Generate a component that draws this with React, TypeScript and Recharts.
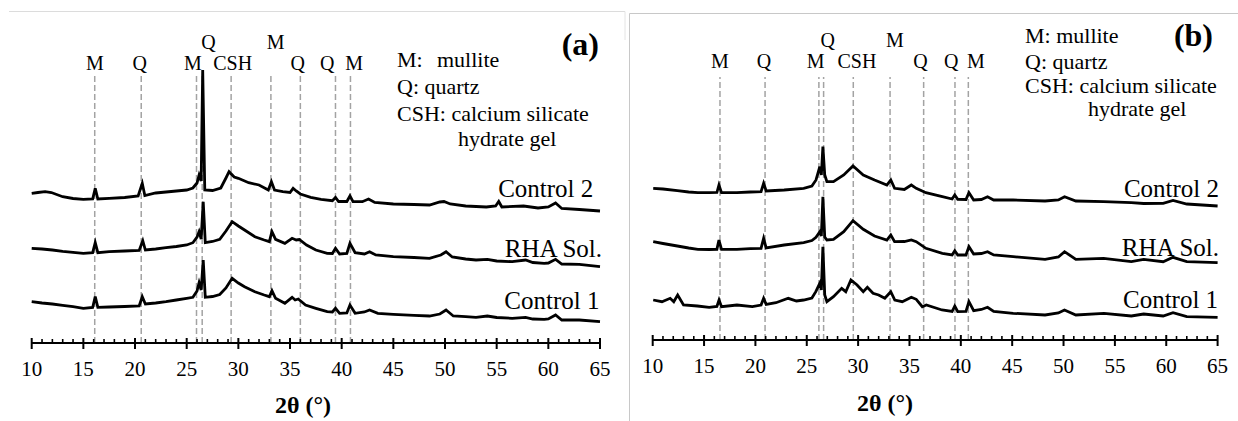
import React from "react";
import { LineChart, Line, XAxis, YAxis, ReferenceLine, ReferenceDot } from "recharts";

const FONT = "Liberation Serif";

type Pt = [number, number];

// phase markers: 2θ of each dashed line, and where its tag sits
const tagNames = ["M", "Q", "M", "Q", "CSH", "M", "Q", "Q", "M"];
const tagRows = [0, 0, 0, 1, 0, 1, 0, 0, 0];
const linesA = [16.1, 20.6, 25.95, 26.5, 29.3, 33.15, 36.0, 39.4, 40.85];
const linesB = [16.55, 20.94, 26.18, 26.64, 29.53, 33.11, 36.38, 39.43, 40.73];
const tagPosA = [16.12, 20.45, 25.6, 27.1, 29.45, 33.6, 35.75, 38.6, 41.2];
const tagPosB = [16.55, 20.84, 25.87, 27.03, 29.89, 33.57, 36.08, 39.07, 41.46];

const seriesNames = ["Control 2", "RHA Sol.", "Control 1"];
const xTickLabels = [10, 15, 20, 25, 30, 35, 40, 45, 50, 55, 60, 65];

// (a) intensity, offset patterns
const control2A: Pt[] = [
  [10, 149.7], [10.6, 150.5], [11.3, 151.3], [11.9, 150.5], [13, 146.3], [14, 144.5], [15, 143.7],
  [15.9, 144], [16.15, 154.7], [16.4, 144], [17.5, 144.7], [19, 145.5], [20.3, 147], [20.7, 159.7],
  [20.95, 147.5], [22, 150], [23.5, 151.5], [25, 153], [25.6, 155], [26, 160], [26.2, 168], [26.4, 162],
  [26.55, 273], [26.75, 153], [27.5, 152.5], [28.3, 155], [28.8, 165], [29.1, 171.3], [29.6, 166],
  [30, 164.7], [31, 160.3], [32, 158], [32.9, 153], [33.2, 161.3], [33.5, 153], [34.3, 151.3],
  [35, 150.5], [35.3, 154.7], [35.6, 152], [36, 149], [37, 145.7], [38, 143.7], [39.1, 142.3],
  [39.4, 145.5], [39.7, 141.5], [40.5, 141.5], [40.8, 147], [41.1, 141.3], [42, 141.3], [42.6, 144],
  [43.2, 140.5], [45, 139], [47, 138.5], [48.5, 138], [49.5, 141], [49.9, 141.5], [50.5, 139],
  [52, 137], [54, 136], [54.9, 137], [55.2, 141.5], [55.5, 136], [57.6, 137], [59, 135], [60, 136],
  [60.7, 140], [61.3, 134.5], [63, 133.5], [65, 132],
];
const rhaA: Pt[] = [
  [10, 94.7], [11, 94], [12, 93], [13, 91.7], [14, 90.7], [15, 89.7], [15.9, 90.3], [16.15, 100.3],
  [16.4, 90.3], [17.5, 91.3], [19, 92], [20.4, 92.5], [20.75, 102.3], [21, 93], [22, 94], [23, 95.3],
  [24, 96.5], [25, 98], [25.6, 100.3], [26, 106], [26.2, 111.3], [26.4, 104], [26.6, 141.3],
  [26.8, 100.3], [27.5, 101.5], [28.2, 103.7], [28.8, 112], [29.4, 121.3], [30, 117], [30.6, 113],
  [31.6, 106.3], [32.5, 103], [33, 101.3], [33.25, 111.3], [33.6, 103.7], [34.5, 99.7], [35.2, 104.7],
  [35.6, 103], [35.9, 103.5], [36.6, 98], [37.5, 93], [38.6, 89.7], [39.1, 89.5], [39.4, 94.7],
  [39.8, 89], [40.5, 89.5], [40.8, 99.7], [41.3, 90.3], [42.2, 89], [42.7, 91.3], [43.3, 88],
  [45, 86.3], [47, 85.5], [48.5, 84.7], [49.6, 88], [50.1, 91.3], [50.7, 86], [52, 84], [53, 83],
  [54.1, 83.7], [55, 82], [56.5, 81.3], [57.8, 83], [58.5, 80.5], [59.6, 79.7], [60, 80], [60.7, 83.7],
  [61.3, 79], [63, 78.7], [65, 76.3],
];
const control1A: Pt[] = [
  [10, 41.3], [11, 40], [12, 39], [13, 37.7], [14, 36.3], [15, 34.7], [15.9, 35.5], [16.15, 46.3],
  [16.4, 35.7], [17.5, 36], [19, 36.5], [20.4, 37], [20.7, 46.3], [21, 39], [22, 40], [23, 41.3],
  [24, 43], [25, 44.7], [25.6, 45.7], [26, 52], [26.2, 60.3], [26.4, 53], [26.6, 83], [26.8, 45.7],
  [27.5, 46.5], [28.2, 48.5], [28.8, 55], [29.4, 64.7], [30, 60], [30.6, 56.3], [31.6, 51.3],
  [32.5, 48], [33, 46.3], [33.25, 52.3], [33.6, 44.7], [34.5, 39.7], [35.2, 45.7], [35.5, 43],
  [35.8, 44], [36.5, 38], [37.5, 34.7], [38.6, 31.3], [39.1, 31], [39.4, 34.7], [39.8, 29.7],
  [40.5, 30], [40.8, 38], [41.3, 29.7], [42.2, 31], [42.7, 33], [43.5, 29.7], [45, 28.7], [47, 27.7],
  [48.5, 27], [49.5, 29], [50.1, 33], [50.8, 27], [52, 26.3], [53, 25.7], [54.1, 27], [55, 25.5],
  [56.5, 24.7], [57.8, 25.7], [58.5, 24], [59.6, 23.7], [60, 24], [60.7, 28], [61.3, 23], [63, 23],
  [65, 21.3],
];

// (b)
const control2B: Pt[] = [
  [10.05, 151.7], [11, 151], [12.4, 149.3], [13.5, 148], [14.4, 147.3], [15.5, 147.3], [16.25, 147.5],
  [16.45, 155], [16.7, 147.3], [18.2, 147.3], [19.5, 148], [20.55, 148.3], [20.8, 156.7], [21.05, 149],
  [22.8, 150], [24.7, 151.7], [25.5, 154], [25.9, 160], [26.27, 173.3], [26.42, 165], [26.57, 193.3],
  [26.75, 165], [26.96, 158.3], [27.6, 158.3], [28.6, 165], [29.5, 174], [30.5, 165], [31.6, 160],
  [32.8, 155], [33.18, 160], [33.55, 151.7], [34.5, 150.5], [35.18, 155], [35.66, 151.7], [36.6, 147.3],
  [38.2, 143.3], [39.15, 141], [39.41, 145], [39.7, 140.7], [40.5, 140.5], [40.79, 147.3], [41.25, 140],
  [42, 140.5], [42.6, 143.3], [43.2, 140], [45.1, 140], [48.2, 139], [49.5, 140], [50.1, 143.3],
  [51.2, 139], [53.9, 138.3], [56.6, 137.3], [57.8, 136.5], [59.7, 136.7], [60.66, 139.5], [62, 136],
  [65, 134],
];
const rhaB: Pt[] = [
  [10.05, 98.3], [11, 96.5], [12.4, 94], [13.5, 92], [14.4, 90.7], [15.5, 90.5], [16.25, 90.7],
  [16.45, 100], [16.7, 90.7], [18.2, 90.7], [19.5, 91.3], [20.55, 91.7], [20.8, 101.7], [21.05, 92],
  [22.8, 95], [24.7, 97.3], [25.5, 99.5], [25.9, 102.7], [26.27, 108.3], [26.42, 104], [26.57, 143.3],
  [26.75, 103], [26.96, 100], [27.6, 100.7], [28.6, 108.3], [29.5, 119.3], [30.5, 110.7], [31.6, 104],
  [32.8, 100], [33.18, 105], [33.55, 98.3], [34.5, 98.5], [35.18, 100], [35.66, 98.3], [36.6, 91.7],
  [38.2, 86.7], [39.15, 85], [39.41, 89.3], [39.7, 85], [40.5, 85], [40.79, 93.3], [41.25, 86],
  [42, 86.5], [42.6, 88.3], [43.2, 85], [45.1, 83.3], [48.2, 80.7], [49.5, 83], [50.1, 88.3],
  [51.2, 80.7], [53.9, 81.7], [56.6, 78.3], [57.8, 80.7], [59.7, 78.3], [60.66, 82.7], [62, 78.3],
  [65, 77.3],
];
const control1B: Pt[] = [
  [10.05, 40], [10.9, 38.3], [11.7, 41.7], [12.05, 38.3], [12.43, 45], [13, 35], [14.35, 34],
  [15.5, 32.7], [16.25, 33.5], [16.46, 40], [16.7, 33.3], [18.2, 35], [19.7, 33.3], [20.55, 35],
  [20.8, 41.7], [21.05, 35.5], [22, 37.3], [23.2, 41.7], [24, 39], [24.7, 40], [25.5, 42],
  [25.88, 48.3], [26.27, 56.7], [26.42, 50], [26.57, 93.3], [26.75, 45], [26.96, 38.3], [27.6, 43.3],
  [28.4, 51.7], [28.8, 48.3], [29.3, 60], [29.9, 55], [30.5, 48.3], [30.9, 52.7], [31.45, 46.7],
  [32, 45], [32.6, 41.7], [33.18, 48.3], [33.57, 40], [34.3, 38.3], [35.18, 42.7], [35.66, 40.7],
  [36.25, 33.3], [36.64, 35], [38.17, 30], [39.15, 28.5], [39.41, 34], [39.7, 28.3], [40.5, 28.5],
  [40.79, 38.3], [41.25, 29.3], [42, 30.5], [42.6, 32.7], [43.2, 28.5], [45.1, 26.7], [48.2, 25],
  [49.5, 27], [50.09, 30], [51.2, 25], [53.94, 26.7], [56.6, 24], [57.8, 26], [59.7, 24],
  [60.66, 27.3], [62, 23.3], [65, 22.7],
];

const toRows = (pts: Pt[]) => pts.map(([x, y]) => ({ x, y }));
const xTicks = Array.from({ length: 56 }, (_, i) => 10 + i);
const serif = { fontFamily: FONT };

function XTick(props: any) {
  const { x, y, payload } = props;
  const v = payload.value;
  const major = xTickLabels.includes(v);
  return (
    <g>
      {major ? (
        <line x1={x} x2={x} y1={y - 5} y2={y + 6} stroke="#000" strokeWidth={2} />
      ) : (
        <line x1={x} x2={x} y1={y - 4} y2={y} stroke="#000" strokeWidth={1.6} />
      )}
      {major && (
        <text x={x} y={y + 33} textAnchor="middle" fontSize={21} style={serif} fill="#000">
          {v}
        </text>
      )}
    </g>
  );
}

function Panel({ cfg }: any) {
  const series = cfg.series.map(toRows);
  return (
    <div style={{ position: "absolute", left: cfg.left, top: 0 }}>
      <LineChart
        width={cfg.width}
        height={421}
        margin={{ top: 0, right: cfg.mr, bottom: 0, left: cfg.ml }}
        style={serif}
      >
        <XAxis
          type="number"
          dataKey="x"
          domain={[10, 65]}
          ticks={xTicks}
          interval={0}
          tickSize={0}
          tickMargin={0}
          tickLine={false}
          tick={(p: any) => <XTick {...p} />}
          axisLine={{ stroke: "#000", strokeWidth: 2 }}
          height={cfg.axisH}
        />
        <YAxis type="number" domain={[0, cfg.yMax]} hide allowDataOverflow />
        {cfg.lines.map((v: number, i: number) => (
          <ReferenceLine
            key={"l" + i}
            segment={[{ x: v, y: 0 }, { x: v, y: cfg.lineTop }]}
            stroke="#a3a3a3"
            strokeWidth={1.5}
            strokeDasharray="6 3"
            ifOverflow="visible"
          />
        ))}
        {series.map((d: any, i: number) => (
          <Line
            key={"s" + i}
            data={d}
            dataKey="y"
            type="linear"
            stroke="#000"
            strokeWidth={2.8}
            dot={false}
            activeDot={false}
            isAnimationActive={false}
          />
        ))}
        {tagNames.map((t, i) => (
          <ReferenceDot
            key={"t" + i}
            x={cfg.tagPos[i]}
            y={cfg.rows[tagRows[i]]}
            r={0}
            fill="none"
            stroke="none"
            ifOverflow="visible"
            label={{ value: t, position: "center", fontSize: 20, fill: "#000", fontFamily: FONT, style: serif }}
          />
        ))}
        {seriesNames.map((n, i) => (
          <ReferenceDot
            key={"n" + i}
            x={cfg.names[i][0]}
            y={cfg.names[i][1]}
            r={0}
            fill="none"
            stroke="none"
            ifOverflow="visible"
            label={{ value: n, position: "left", offset: 0, fontSize: 25, fill: "#000", fontFamily: FONT, style: serif }}
          />
        ))}
      </LineChart>
    </div>
  );
}

const panelA = {
  left: 0, width: 625, ml: 31.7, mr: 25, axisH: 78, yMax: 343, lineTop: 268,
  series: [control2A, rhaA, control1A], lines: linesA, tagPos: tagPosA, rows: [280, 301],
  names: [[64.35, 155], [65.2, 95], [64.95, 43]],
};
const panelB = {
  left: 629, width: 609, ml: 23.7, mr: 20.4, axisH: 81, yMax: 340, lineTop: 263,
  series: [control2B, rhaB, control1B], lines: linesB, tagPos: tagPosB, rows: [279, 300],
  names: [[65.14, 152], [65.14, 93.3], [65.05, 41]],
};

export default function App() {
  return (
    <div
      style={{
        position: "absolute", left: 0, top: 0, width: 1238, height: 421,
        background: "#fff", overflow: "hidden", fontFamily: FONT,
      }}
    >
      <Panel cfg={panelA} />
      <Panel cfg={panelB} />
      <svg width={1238} height={421} style={{ position: "absolute", left: 0, top: 0, pointerEvents: "none", fontFamily: FONT }}>
        <line x1={9} x2={625} y1={11.5} y2={11.5} stroke="#dcdcdc" strokeWidth={1} />
        <line x1={625} x2={625} y1={11.5} y2={40} stroke="#e4e4e4" strokeWidth={1} />
        <line x1={629.5} x2={1238} y1={13.5} y2={13.5} stroke="#c8c8c8" strokeWidth={1} />
        <line x1={629.5} x2={629.5} y1={13.5} y2={421} stroke="#c8c8c8" strokeWidth={1} />

        <g fontSize={22} dominantBaseline="central" fill="#000" style={serif}>
          <text x={397} y={59} style={serif}>M:</text>
          <text x={437} y={59} style={serif}>mullite</text>
          <text x={397} y={86} style={serif}>Q: quartz</text>
          <text x={397} y={113} style={serif}>CSH: calcium silicate</text>
          <text x={458} y={138} style={serif}>hydrate gel</text>

          <text x={1025} y={35} style={serif}>M: mullite</text>
          <text x={1025} y={61} style={serif}>Q: quartz</text>
          <text x={1025} y={85} style={serif}>CSH: calcium silicate</text>
          <text x={1088} y={108} style={serif}>hydrate gel</text>
        </g>
        <text x={599} y={44} fontSize={32} fontWeight="bold" textAnchor="end" dominantBaseline="central" fill="#000" style={serif}>(a)</text>
        <text x={1213} y={35} fontSize={32} fontWeight="bold" textAnchor="end" dominantBaseline="central" fill="#000" style={serif}>(b)</text>

        <text x={303} y={405} fontSize={24} fontWeight="bold" textAnchor="middle" dominantBaseline="central" fill="#000" style={serif}>2θ (°)</text>
        <text x={885} y={403} fontSize={24} fontWeight="bold" textAnchor="middle" dominantBaseline="central" fill="#000" style={serif}>2θ (°)</text>
      </svg>
    </div>
  );
}
